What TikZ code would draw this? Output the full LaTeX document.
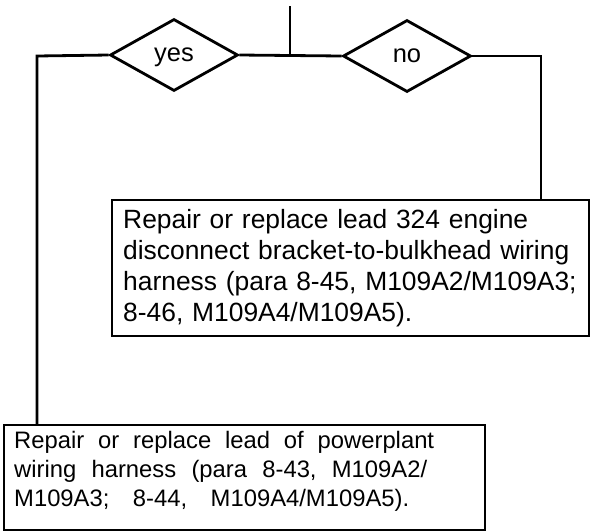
\documentclass[tikz,border=0pt]{standalone}
\usepackage{fontspec}
\setmainfont{Liberation Sans}
\usetikzlibrary{shapes.geometric}
\begin{document}
\begin{tikzpicture}[x=1pt,y=1pt,
  conn/.style={line width=2.8pt},
  decision/.style={diamond,draw,line width=2.8pt,minimum width=128pt,minimum height=72pt,inner sep=0pt,text depth=0pt,font=\fontsize{25.5}{30}\selectfont},
  actionbox/.style={draw,line width=2.4pt,anchor=north west,inner ysep=0pt,align=left}]
\useasboundingbox (0,0) rectangle (590,-531);
\node[decision] (yes) at (174,-55) {yes};
\node[decision] (no) at (407,-56) {no};
\coordinate (top) at (290,-6);
\coordinate (junc) at (290,-56);
\coordinate (lc) at (37,-56);
\coordinate (rc) at (541,-56);
\node[actionbox,inner xsep=11pt,text width=455pt,font=\fontsize{26.4}{31}\selectfont] (box1) at (111,-199)
 {\rule{0pt}{28pt}\mbox{Repair or replace lead 324 engine}\\\mbox{disconnect bracket-to-bulkhead wiring}\\\mbox{harness (para 8-45, M109A2/M109A3;}\\\mbox{8-46, M109A4/M109A5).}\rule[-15pt]{0pt}{15pt}};
\node[actionbox,inner xsep=10pt,text width=461pt,font=\fontsize{23.8}{29}\selectfont] (box2) at (3,-424)
 {\rule{0pt}{23pt}\makebox[420pt][l]{Repair\hfill or\hfill replace\hfill lead\hfill of\hfill powerplant}\\\makebox[413pt][l]{wiring\hfill harness\hfill (para\hfill 8-43,\hfill M109A2/}\\\makebox[395pt][l]{M109A3;\hfill 8-44,\hfill M109A4/M109A5).}\rule[-24pt]{0pt}{24pt}};
\draw[conn] (top) -- (junc);
\draw[conn] (yes.east) -- (no.west);
\draw[conn] (yes.west) -- (lc) -- (lc |- box2.north);
\draw[conn] (no.east) -- (rc) -- (rc |- box1.north);
\end{tikzpicture}
\end{document}
